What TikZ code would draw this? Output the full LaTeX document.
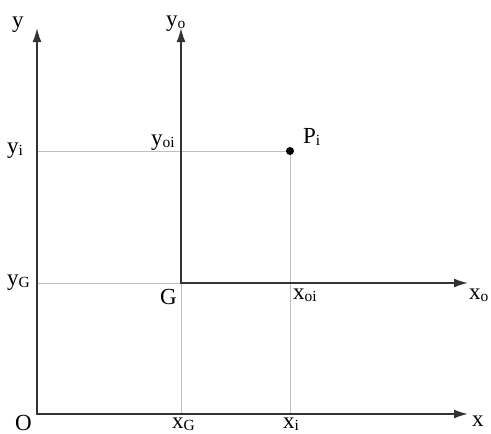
\documentclass[tikz,border=0pt]{standalone}
\usepackage{fontspec}
\setmainfont{Liberation Serif}
\usetikzlibrary{arrows.meta}
\newcommand{\lbsub}[1]{\raisebox{-0.1em}{\fontsize{15.5}{15.5}\selectfont #1}}

\begin{document}
\begin{tikzpicture}[x=1pt, y=-1pt, >={Latex[length=14pt,width=9pt]},
  axis/.style={draw=black!80, line width=1.6pt},
  guide/.style={draw=black!25, line width=0.7pt},
  lbl/.style={anchor=base west, inner sep=0pt, font=\fontsize{23}{23}\selectfont}]
  \useasboundingbox (0,0) rectangle (491,434);
  % axis points
  \coordinate (O) at (37,414);
  \coordinate (xend) at (468,414);
  \coordinate (yend) at (37,28);
  \coordinate (G) at (181,283);
  \coordinate (xoend) at (468,283);
  \coordinate (yoend) at (181,28);
  \coordinate (P) at (290,151);
  \coordinate (yi) at (37,151);
  \coordinate (yG) at (37,283);
  \coordinate (xG) at (181,414);
  \coordinate (xi) at (290,414);
  % guide lines
  \draw[guide] (yi) -- (P) -- (xi);
  \draw[guide] (yG) -- (G) -- (xG);
  % axes
  \draw[axis,<->] (yend) -- (O) -- (xend);
  \draw[axis,<->] (yoend) -- (G) -- (xoend);
  \fill[black] (P) circle (4pt);
  % labels
  \node[lbl] (ylab) at (12,27) {y};
  \node[lbl] (yolab) at (166,26) {y\lbsub{o}};
  \node[lbl] (yilab) at (7,153) {y\lbsub{i}};
  \node[lbl] (yoilab) at (151,145) {y\lbsub{oi}};
  \node[lbl] (Plab) at (303,143) {P\lbsub{i}};
  \node[lbl] (yGlab) at (7,285) {y\lbsub{G}};
  \node[lbl] (Glab) at (160,304) {G};
  \node[lbl] (xoilab) at (293,299) {x\lbsub{oi}};
  \node[lbl] (xolab) at (469,299) {x\lbsub{o}};
  \node[lbl] (Olab) at (15,430) {O};
  \node[lbl] (xGlab) at (172,428) {x\lbsub{G}};
  \node[lbl] (xilab) at (283,428) {x\lbsub{i}};
  \node[lbl] (xlab) at (472,426) {x};
\end{tikzpicture}
\end{document}
